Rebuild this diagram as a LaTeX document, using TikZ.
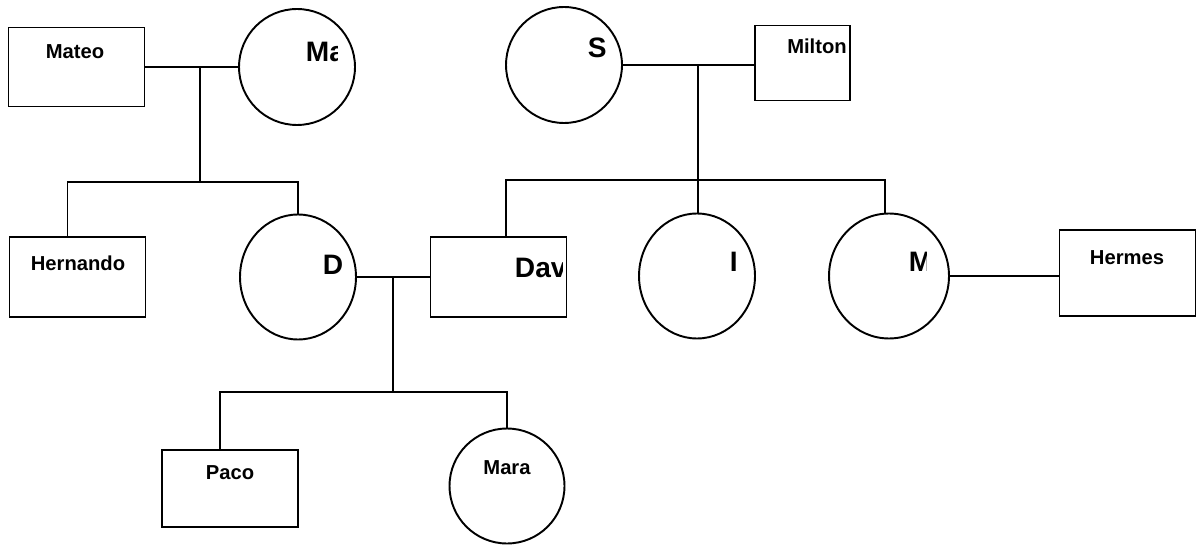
\documentclass[tikz,border=0pt]{standalone}
\usepackage{fontspec}
\setmainfont{Liberation Sans}
\usetikzlibrary{shapes.geometric}

\begin{document}
\begin{tikzpicture}[x=0.02cm, y=-0.02cm, line width=1.1pt,
  man/.style={draw, rectangle, inner sep=0pt, minimum width=2.72cm, minimum height=1.6cm},
  woman/.style={draw, circle, inner sep=0pt, minimum size=2.32cm},
  tallwoman/.style={draw, ellipse, inner sep=0pt, minimum width=2.32cm, minimum height=2.5cm},
  smallname/.style={font=\fontsize{11.5}{14}\selectfont\bfseries, inner sep=0pt},
  bigname/.style={font=\fontsize{16}{18}\selectfont\bfseries, inner sep=0pt, anchor=base west}]
\useasboundingbox (0,0) rectangle (1196,547);

% first generation
\node[man, minimum height=1.58cm] (mateo) at (76.5,67) {};
\node[woman] (ma) at (297,67) {};
\node[woman] (s) at (564,65) {};
\node[man, minimum width=1.9cm, minimum height=1.5cm] (milton) at (802.5,63) {};

% second generation
\node[man] (hernando) at (77.5,277) {};
\node[tallwoman] (dgirl) at (298,277) {};
\node[man] (dav) at (498.5,277) {};
\node[tallwoman] (igirl) at (697,276) {};
\node[tallwoman, minimum width=2.4cm] (mgirl) at (889,276) {};
\node[man, minimum height=1.72cm] (hermes) at (1127.5,273) {};

% third generation
\node[man, minimum height=1.54cm] (paco) at (230,488.5) {};
\node[woman, minimum size=2.3cm] (mara) at (507,486) {};

% names
\node[smallname] (mateoname) at (75,52) {Mateo};
\node[smallname] (miltonname) at (817,46) {Milton};
\node[smallname] (hernandoname) at (78,263) {Hernando};
\node[smallname] (hermesname) at (1127,258) {Hermes};
\node[smallname] (paconame) at (230,473) {Paco};
\node[smallname] (maraname) at (507,468) {Mara};
\node[bigname] (sname) at (587,58) {S};
\node[bigname] (iname) at (729,271) {I};
\begin{scope}
\clip (300,30) rectangle (337,75);
\node[bigname] (maname) at (305,62) {Ma};
\end{scope}
\begin{scope}
\clip (315,245) rectangle (341,290);
\node[bigname] (dname) at (322,274) {D};
\end{scope}
\begin{scope}
\clip (505,245) rectangle (562,290);
\node[bigname] (davname) at (514,277) {Dav};
\end{scope}
\begin{scope}
\clip (900,245) rectangle (926,290);
\node[bigname] (mname) at (908,271) {M};
\end{scope}

% couples and children
\coordinate (fam1) at (200,67);
\coordinate (kids1) at (200,182);
\draw (mateo.east) -- (ma.west);
\draw (fam1) -- (kids1);
\draw ([xshift=-0.2cm]hernando.north) |- (kids1) -| (dgirl.north);

\coordinate (fam2) at (698,65);
\coordinate (kids2) at (698,180);
\draw (s.east) -- (s.east -| milton.west);
\draw (fam2) -- (kids2);
\draw ([xshift=0.15cm]dav.north) |- (kids2) -| ([xshift=-0.08cm]mgirl.north);
\draw (kids2) -- (kids2 |- igirl.north);

\coordinate (fam3) at (393,277);
\coordinate (kids3) at (393,392);
\draw (dgirl.east) -- (dgirl.east -| dav.west);
\draw (fam3) -- (kids3);
\draw ([xshift=-0.2cm]paco.north) |- (kids3) -| (mara.north);

\draw (mgirl.east) -- (mgirl.east -| hermes.west);
\end{tikzpicture}
\end{document}
